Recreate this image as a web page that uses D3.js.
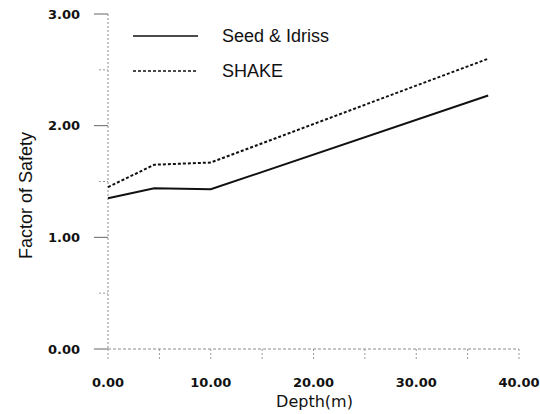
<!DOCTYPE html>
<html>
<head>
<meta charset="utf-8">
<script src="https://cdn.jsdelivr.net/npm/d3@7"></script>
<style>
  html, body { margin: 0; padding: 0; background: #fff; }
  svg { display: block; font-family: "Liberation Sans", Arial, sans-serif; }
</style>
</head>
<body>
<svg id="chart" width="540" height="414"></svg>
<script>
// Factor of safety against liquefaction versus depth
const depth = [0, 4.5, 10, 37];
const seedIdriss = [1.35, 1.44, 1.43, 2.27];
const shake = [1.45, 1.65, 1.67, 2.60];

const xTicks = [0, 10, 20, 30, 40];
const xMinorTicks = [0, 5, 10, 15, 20, 25, 30, 35, 40];
const yTicks = [0, 1, 2, 3];
const yMinorTicks = [0, 0.5, 1, 1.5, 2, 2.5, 3];

const seriesNames = ["Seed & Idriss", "SHAKE"];

const svg = d3.select("#chart");
const x = d3.scaleLinear().domain([0, 40]).range([108, 519]);
const y = d3.scaleLinear().domain([0, 3]).range([349, 14]);

const axisColor = "#8a8a8a";
const fmt = d3.format(".2f");
const tickFont = "'DejaVu Sans', sans-serif";

// axis lines
svg.append("line").attr("x1", x(0)).attr("x2", x(0)).attr("y1", y(3)).attr("y2", y(0))
  .attr("stroke", axisColor).attr("stroke-width", 1).attr("stroke-dasharray", "2,2");
svg.append("line").attr("x1", x(0)).attr("x2", x(40)).attr("y1", y(0)).attr("y2", y(0))
  .attr("stroke", axisColor).attr("stroke-width", 1).attr("stroke-dasharray", "3,2");

// y ticks (outward, left): long for labelled values, short for halves
svg.selectAll(".ytick").data(yMinorTicks).join("line")
  .attr("x1", d => x(0) - (Number.isInteger(d) ? 14 : 9)).attr("x2", x(0))
  .attr("y1", d => y(d)).attr("y2", d => y(d))
  .attr("stroke", d => Number.isInteger(d) ? "#666" : "#999")
  .attr("stroke-width", 1)
  .attr("stroke-dasharray", d => Number.isInteger(d) ? null : "2,2");

svg.selectAll(".ylab").data(yTicks).join("text")
  .attr("x", 80).attr("y", d => y(d)).attr("dy", "0.36em")
  .attr("text-anchor", "end").attr("font-family", tickFont)
  .attr("font-size", 13).attr("font-weight", "bold")
  .attr("fill", "#111").text(d => fmt(d));

// x ticks (outward, down)
svg.selectAll(".xtick").data(xMinorTicks).join("line")
  .attr("x1", d => x(d)).attr("x2", d => x(d))
  .attr("y1", y(0)).attr("y2", y(0) + 12)
  .attr("stroke", "#999").attr("stroke-width", 1).attr("stroke-dasharray", "2,2");

svg.selectAll(".xlab").data(xTicks).join("text")
  .attr("x", d => x(d)).attr("y", 387)
  .attr("text-anchor", "middle").attr("font-family", tickFont)
  .attr("font-size", 13).attr("font-weight", "bold")
  .attr("fill", "#111").text(d => fmt(d));

// axis titles
svg.append("text").attr("x", x(20) + 1).attr("y", 407).attr("text-anchor", "middle")
  .attr("font-family", tickFont).attr("font-size", 16).attr("fill", "#111").text("Depth(m)");
svg.append("text")
  .attr("transform", `translate(32,${(y(3) + y(0)) / 2 + 14}) rotate(-90)`)
  .attr("text-anchor", "middle").attr("font-size", 18).attr("fill", "#111")
  .text("Factor of Safety");

// series
const line = d3.line().x((d, i) => x(depth[i])).y(d => y(d));
svg.append("path").datum(seedIdriss).attr("d", line)
  .attr("fill", "none").attr("stroke", "#111").attr("stroke-width", 2);
svg.append("path").datum(shake).attr("d", line)
  .attr("fill", "none").attr("stroke", "#111").attr("stroke-width", 2)
  .attr("stroke-dasharray", "3,2");

// legend
const legend = [
  { name: seriesNames[0], dash: null, yPos: 36 },
  { name: seriesNames[1], dash: "3,2", yPos: 71 }
];
legend.forEach(l => {
  svg.append("line").attr("x1", 133).attr("x2", 198).attr("y1", l.yPos).attr("y2", l.yPos)
    .attr("stroke", "#111").attr("stroke-width", 1.6).attr("stroke-dasharray", l.dash);
  svg.append("text").attr("x", 222).attr("y", l.yPos).attr("dy", "0.35em")
    .attr("font-size", 18).attr("fill", "#111").text(l.name);
});
</script>
</body>
</html>
